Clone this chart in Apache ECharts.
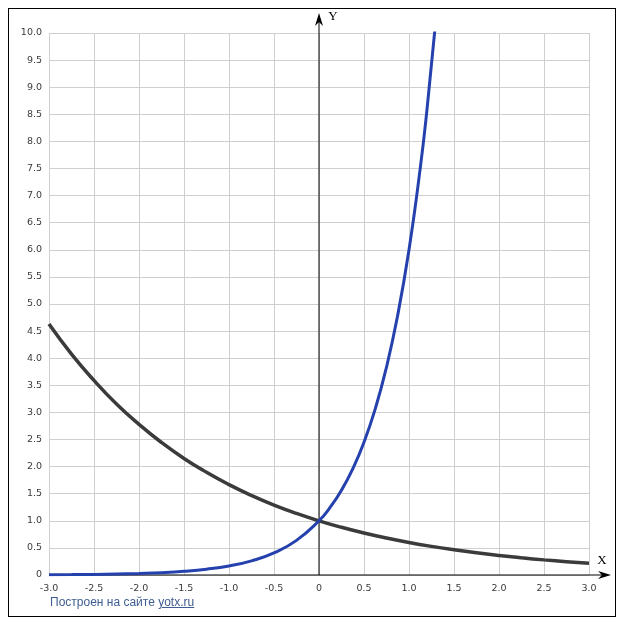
<!DOCTYPE html>
<html>
<head>
<meta charset="utf-8">
<script src="https://cdn.jsdelivr.net/npm/echarts@6/dist/echarts.min.js"></script>
<style>
html,body{margin:0;padding:0;background:#fff;}
#wrap{position:relative;width:627px;height:630px;}
#chart{position:absolute;left:0;top:0;width:627px;height:630px;}
#frame{position:absolute;left:8px;top:8px;width:608px;height:609px;border:1.5px solid #000;box-sizing:border-box;pointer-events:none;}
#foot{position:absolute;left:50px;top:595px;font-family:"Liberation Sans",Arial,sans-serif;font-size:12px;color:#3f5d91;}
#foot span{text-decoration:underline;}
</style>
</head>
<body>
<div id="wrap">
<div id="chart"></div>
<div id="frame"></div>
<div id="foot">Построен на сайте <span>yotx.ru</span></div>
</div>
<script>
// x positions and read values
var blueX = [-3, -2.75, -2.5, -2.25, -2, -1.75, -1.5, -1.25, -1, -0.75, -0.5, -0.25, 0, 0.125, 0.25, 0.375, 0.5, 0.625, 0.75, 0.875, 1, 1.125, 1.2, 1.3];
var blueY = [0.005, 0.007, 0.011, 0.018, 0.028, 0.043, 0.068, 0.107, 0.167, 0.261, 0.408, 0.639, 1.0, 1.251, 1.565, 1.958, 2.449, 3.064, 3.834, 4.796, 6.0, 7.506, 8.59, 10.27];
var blackX = [-3, -2.75, -2.5, -2.25, -2, -1.75, -1.5, -1.25, -1, -0.75, -0.5, -0.25, 0, 0.25, 0.5, 0.75, 1, 1.25, 1.5, 1.75, 2, 2.25, 2.5, 2.75, 3];
var blackY = [4.63, 4.075, 3.59, 3.156, 2.78, 2.445, 2.15, 1.894, 1.667, 1.467, 1.29, 1.136, 1.0, 0.88, 0.775, 0.682, 0.6, 0.528, 0.465, 0.409, 0.36, 0.317, 0.279, 0.245, 0.216];
var axisLabelX = "X";
var axisLabelY = "Y";

function fmt(v){ return v === 0 ? "0" : v.toFixed(1); }
function pairs(xs, ys){ return xs.map(function(x,i){ return [x, ys[i]]; }); }

var chart = echarts.init(document.getElementById('chart'), null, {renderer:'canvas'});
var labelStyle = {color:'#3a3a3a', fontSize:9.5, fontFamily:'"DejaVu Sans", Verdana, sans-serif'};
chart.setOption({
  animation:false,
  grid:{left:49, right:38, top:33, bottom:55, containLabel:false},
  xAxis:{type:'value', min:-3, max:3, interval:0.5,
    axisLine:{show:false}, axisTick:{show:false},
    splitLine:{show:true, lineStyle:{color:'#cfcfcf', width:1}},
    axisLabel:Object.assign({formatter:fmt, margin:9}, labelStyle)},
  yAxis:{type:'value', min:0, max:10, interval:0.5,
    axisLine:{show:false}, axisTick:{show:false},
    splitLine:{show:true, lineStyle:{color:'#cfcfcf', width:1}},
    axisLabel:Object.assign({formatter:fmt, margin:7}, labelStyle)},
  series:[
    {type:'line', data:pairs(blackX, blackY), smooth:true, showSymbol:false, clip:true,
     lineStyle:{color:'#3b3b3b', width:3.5}, z:3},
    {type:'line', data:pairs(blueX, blueY), smooth:true, showSymbol:false, clip:true,
     lineStyle:{color:'#2541ae', width:3}, z:4}
  ]
});

// axes with arrows, positioned from the chart's own scales
var o = chart.convertToPixel({gridIndex:0}, [0, 0]);
var xl = chart.convertToPixel({gridIndex:0}, [-3, 0]);
var xr = chart.convertToPixel({gridIndex:0}, [3, 0]);
var yt = chart.convertToPixel({gridIndex:0}, [0, 10]);
var xEnd = xr[0] + 22, yEnd = yt[1] - 20;
chart.setOption({
  graphic:[
    {type:'line', z:2, shape:{x1:xl[0], y1:o[1], x2:xEnd-6, y2:o[1]}, style:{stroke:'#000', lineWidth:1}},
    {type:'polygon', z:2, shape:{points:[[xEnd,o[1]],[xEnd-13,o[1]-4],[xEnd-9,o[1]],[xEnd-13,o[1]+4]]}, style:{fill:'#000'}},
    {type:'line', z:2, shape:{x1:o[0], y1:o[1], x2:o[0], y2:yEnd+6}, style:{stroke:'#000', lineWidth:1}},
    {type:'polygon', z:2, shape:{points:[[o[0],yEnd],[o[0]-4,yEnd+13],[o[0],yEnd+9],[o[0]+4,yEnd+13]]}, style:{fill:'#000'}},
    {type:'text', z:10, x:xEnd-9, y:o[1]-14, style:{text:axisLabelX, fill:'#000', font:'13px "Liberation Serif", serif', textAlign:'center', textVerticalAlign:'middle'}},
    {type:'text', z:10, x:o[0]+14, y:yEnd+4, style:{text:axisLabelY, fill:'#000', font:'13px "Liberation Serif", serif', textAlign:'center', textVerticalAlign:'middle'}}
  ]
});
</script>
</body>
</html>
